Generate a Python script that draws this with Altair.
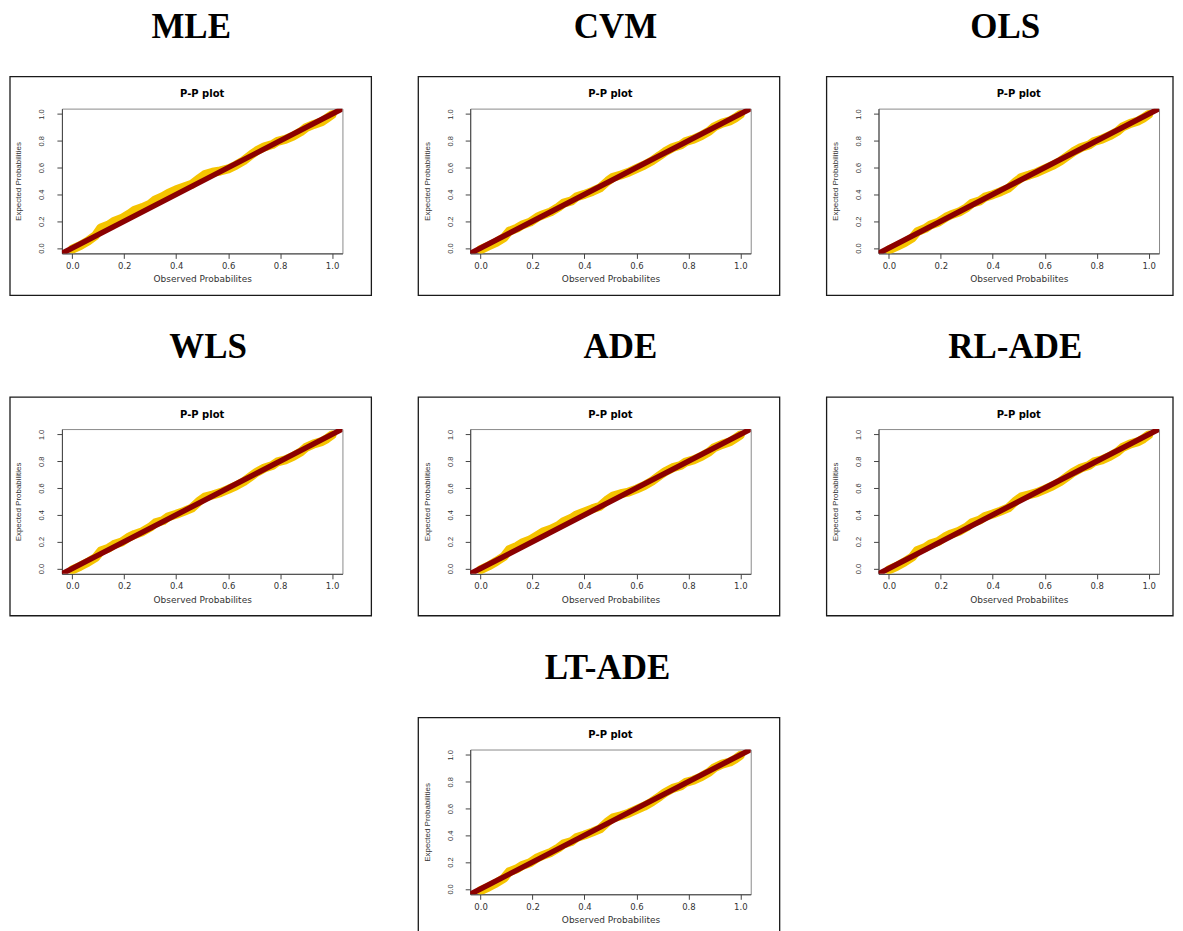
import altair as alt
import pandas as pd

# ---------------- data ----------------
METHODS = ["MLE", "CVM", "OLS", "WLS", "ADE", "RL-ADE", "LT-ADE"]

X_OBS = [0.00, 0.03, 0.06, 0.09, 0.11, 0.14, 0.16, 0.19, 0.22, 0.24, 0.27, 0.30,
         0.32, 0.35, 0.37, 0.40, 0.43, 0.46, 0.49, 0.51, 0.54, 0.57, 0.60, 0.63,
         0.66, 0.69, 0.71, 0.74, 0.77, 0.79, 0.82, 0.85, 0.88, 0.90, 0.93, 0.96,
         0.98, 1.00]

Y_MLE = [-0.008, 0.018, 0.052, 0.095, 0.150, 0.172, 0.198, 0.220, 0.255, 0.282, 0.302, 0.328,
         0.360, 0.385, 0.408, 0.435, 0.455, 0.475, 0.520, 0.548, 0.565, 0.575, 0.590, 0.618,
         0.652, 0.698, 0.725, 0.755, 0.772, 0.795, 0.810, 0.835, 0.868, 0.898, 0.922, 0.942,
         0.968, 0.995]
Y_CVM = [-0.012, 0.015, 0.042, 0.078, 0.125, 0.148, 0.172, 0.193, 0.232, 0.248, 0.270, 0.305,
         0.335, 0.352, 0.382, 0.400, 0.422, 0.448, 0.500, 0.528, 0.545, 0.565, 0.592, 0.618,
         0.650, 0.690, 0.718, 0.750, 0.768, 0.795, 0.812, 0.838, 0.872, 0.905, 0.932, 0.948,
         0.970, 0.997]
Y_OLS = [-0.014, 0.012, 0.040, 0.076, 0.122, 0.146, 0.172, 0.192, 0.230, 0.248, 0.268, 0.302,
         0.334, 0.352, 0.380, 0.398, 0.420, 0.446, 0.498, 0.526, 0.544, 0.564, 0.590, 0.616,
         0.648, 0.690, 0.718, 0.750, 0.768, 0.795, 0.812, 0.838, 0.870, 0.904, 0.930, 0.948,
         0.970, 0.997]
Y_WLS = [-0.010, 0.016, 0.046, 0.082, 0.130, 0.152, 0.178, 0.198, 0.236, 0.254, 0.274, 0.308,
         0.340, 0.358, 0.386, 0.404, 0.426, 0.450, 0.504, 0.532, 0.548, 0.566, 0.590, 0.616,
         0.648, 0.690, 0.718, 0.750, 0.768, 0.795, 0.810, 0.836, 0.870, 0.903, 0.930, 0.946,
         0.968, 0.996]
Y_ADE = [-0.010, 0.018, 0.052, 0.090, 0.140, 0.165, 0.190, 0.212, 0.248, 0.272, 0.292, 0.320,
         0.350, 0.375, 0.400, 0.422, 0.445, 0.465, 0.515, 0.540, 0.558, 0.570, 0.592, 0.618,
         0.652, 0.695, 0.722, 0.752, 0.768, 0.794, 0.810, 0.836, 0.870, 0.902, 0.926, 0.945,
         0.970, 0.996]
Y_RLADE = [-0.010, 0.016, 0.048, 0.085, 0.135, 0.156, 0.182, 0.202, 0.240, 0.258, 0.278, 0.310,
           0.342, 0.362, 0.388, 0.406, 0.428, 0.452, 0.506, 0.534, 0.550, 0.566, 0.590, 0.616,
           0.648, 0.690, 0.718, 0.750, 0.768, 0.795, 0.810, 0.836, 0.870, 0.903, 0.930, 0.946,
           0.968, 0.996]
Y_LTADE = [-0.012, 0.014, 0.044, 0.080, 0.128, 0.150, 0.175, 0.195, 0.234, 0.250, 0.272, 0.306,
           0.336, 0.354, 0.384, 0.402, 0.424, 0.448, 0.502, 0.530, 0.546, 0.565, 0.591, 0.617,
           0.650, 0.690, 0.718, 0.750, 0.768, 0.795, 0.811, 0.837, 0.871, 0.904, 0.931, 0.947,
           0.969, 0.997]

Y_BY_METHOD = [Y_MLE, Y_CVM, Y_OLS, Y_WLS, Y_ADE, Y_RLADE, Y_LTADE]

REF_LINE = [-0.04, 1.04]          # the 45-degree reference line, corner to corner
TICKS = [0.0, 0.2, 0.4, 0.6, 0.8, 1.0]
PLOT_TITLE = "P-P plot"
X_TITLE = "Observed Probabilites"
Y_TITLE = "Expected Probabilities"

# ---------------- styling / layout ----------------
W, H = 281, 145
YELLOW = "#F5C400"
DARKRED = "#8B0000"
SANS = "DejaVu Sans"
NARROW = "Liberation Sans Narrow, Liberation Sans, Arial"
SERIF = "Liberation Serif, Times New Roman, serif"
FRAME_W = [362, 362, 347, 362, 362, 347, 362]       # outer box width of each panel
HEAD_X = [129.5, 145.5, 127, 146.5, 150.5, 137, 137.5]  # heading centre, from plot's left edge


def panel(name, ys, frame_w, head_x):
    sc = alt.Scale(domain=REF_LINE, nice=False, zero=False)
    xaxis = alt.Axis(values=TICKS, format=".1f", title=X_TITLE, grid=False,
                     labelFont=SANS, labelFontSize=8.5, labelPadding=3, tickSize=5,
                     titleFont=SANS, titleFontSize=9, titleFontWeight="normal", titlePadding=5)
    yaxis = alt.Axis(values=TICKS, format=".1f", title=Y_TITLE, grid=False,
                     labelFont=NARROW, labelFontSize=7.5, labelAngle=270, labelAlign="center",
                     labelBaseline="bottom", labelPadding=11, tickSize=5,
                     titleFont=NARROW, titleFontSize=8, titleFontWeight="normal", titlePadding=15)
    xenc = alt.X("x:Q", scale=sc, axis=xaxis)
    yenc = alt.Y("y:Q", scale=sc, axis=yaxis)

    curve = alt.Chart(pd.DataFrame({"x": X_OBS, "y": ys})).mark_line(
        color=YELLOW, strokeWidth=9, strokeCap="round", strokeJoin="round", clip=True
    ).encode(x=xenc, y=yenc)

    ref = alt.Chart(pd.DataFrame({"x": REF_LINE, "y": REF_LINE})).mark_line(
        color=DARKRED, strokeWidth=5.5, clip=True
    ).encode(x=xenc, y=yenc)

    label_df = pd.DataFrame({"name": [name], "sub": [PLOT_TITLE]})
    frame = alt.Chart(label_df).mark_rect(
        fillOpacity=0, stroke="#1a1a1a", strokeWidth=1.3
    ).encode(x=alt.value(-52), x2=alt.value(-52 + frame_w), y=alt.value(-32), y2=alt.value(187))

    big = alt.Chart(label_df).mark_text(
        font=SERIF, fontSize=35, fontWeight="bold", color="black", baseline="alphabetic", align="center"
    ).encode(text="name:N", x=alt.value(head_x), y=alt.value(-71))

    sub = alt.Chart(label_df).mark_text(
        font=SANS, fontSize=10, fontWeight="bold", color="black", baseline="middle", align="center"
    ).encode(text="sub:N", x=alt.value(W / 2), y=alt.value(-14.5))

    return alt.layer(frame, curve, ref, big, sub).properties(width=W, height=H)


panels = [panel(m, ys, fw, hx) for m, ys, fw, hx in zip(METHODS, Y_BY_METHOD, FRAME_W, HEAD_X)]

blank = alt.Chart(pd.DataFrame({"a": [0]})).mark_point(opacity=0).encode(
    x=alt.value(0), y=alt.value(0)
).properties(width=W, height=H, view=alt.ViewBackground(stroke="transparent"))

SP_X = 128
row1 = alt.hconcat(panels[0], panels[1], panels[2], spacing=SP_X, bounds="flush")
row2 = alt.hconcat(panels[3], panels[4], panels[5], spacing=SP_X, bounds="flush")
row3 = alt.hconcat(blank, panels[6], spacing=SP_X, bounds="flush")

chart = alt.vconcat(row1, row2, row3, spacing=321, bounds="flush").properties(
    padding={"left": 0, "top": 0, "right": 0, "bottom": 0}
).configure_view(
    stroke="#8a8a8a", strokeWidth=1
).configure_axis(
    domainColor="#444444", tickColor="#444444", labelColor="#333333", titleColor="#333333"
)

chart.save("out.html", embed_options={"renderer": "svg", "actions": False})
